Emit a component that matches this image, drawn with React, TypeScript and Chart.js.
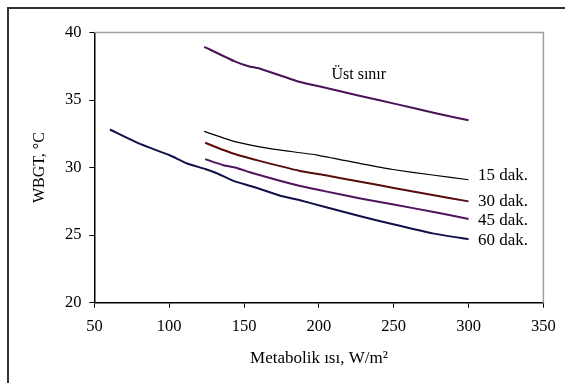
import React, { useEffect, useRef } from "react";
import { Chart, registerables } from "chart.js";

Chart.register(...registerables);

const xTicks = [50, 100, 150, 200, 250, 300, 350];
const yTicks = [20, 25, 30, 35, 40];

const ustSinirX = [123.4, 143.4, 153, 160.3, 186.8, 203.6, 227.7, 251.8, 275.9, 300];
const ustSinirY = [38.94, 37.88, 37.5, 37.34, 36.35, 35.93, 35.3, 34.7, 34.08, 33.5];

const dak15X = [123.4, 144.6, 167.5, 198.8, 227.7, 249.4, 275.9, 300];
const dak15Y = [32.68, 31.9, 31.4, 30.93, 30.3, 29.86, 29.45, 29.1];

const dak30X = [124, 136.2, 145.8, 160.3, 186.8, 203.6, 227.7, 251.8, 275.9, 300];
const dak30Y = [31.84, 31.3, 30.93, 30.5, 29.77, 29.45, 28.95, 28.46, 27.97, 27.5];

const dak45X = [124, 136.2, 144.6, 155.5, 186.8, 203.6, 227.7, 251.8, 275.9, 300];
const dak45Y = [30.63, 30.18, 29.99, 29.6, 28.65, 28.26, 27.72, 27.23, 26.73, 26.2];

const dak60X = [60.4, 79.6, 100, 112, 124, 131.4, 143.4, 155.5, 174.7, 186.8, 203.6, 227.7, 251.8, 275.9, 300];
const dak60Y = [32.82, 31.79, 30.93, 30.3, 29.9, 29.6, 29.0, 28.6, 27.9, 27.6, 27.1, 26.4, 25.75, 25.13, 24.7];

const seriesLabels = ["Üst sınır", "15 dak.", "30 dak.", "45 dak.", "60 dak."];
const labelX = [208.4, 306.3, 306.3, 306.3, 306.3];
const labelY = [36.85, 29.4, 27.48, 26.05, 24.59];

const xTitle = "Metabolik ısı, W/m²";
const yTitle = "WBGT, °C";

const pts = (xs: number[], ys: number[]) => xs.map((x, i) => ({ x, y: ys[i] }));

const FONT = "'Liberation Serif', 'Times New Roman', serif";

export default function App() {
  const ref = useRef<HTMLCanvasElement | null>(null);
  useEffect(() => {
    if (!ref.current) return;
    const framePlugin = {
      id: "frame",
      beforeDraw(chart: any) {
        const ctx = chart.ctx;
        ctx.save();
        ctx.fillStyle = "#fff";
        ctx.fillRect(0, 0, chart.width, chart.height);
        ctx.strokeStyle = "#333";
        ctx.lineWidth = 2;
        ctx.beginPath();
        ctx.moveTo(8, chart.height + 5);
        ctx.lineTo(8, 8);
        ctx.lineTo(chart.width + 5, 8);
        ctx.stroke();
        ctx.restore();
      },
      afterDatasetsDraw(chart: any) {
        const ctx = chart.ctx;
        const { left, right, top, bottom } = chart.chartArea;
        ctx.save();
        ctx.strokeStyle = "#a0a0a0";
        ctx.lineWidth = 1.5;
        ctx.beginPath();
        ctx.moveTo(left, top);
        ctx.lineTo(right, top);
        ctx.lineTo(right, bottom);
        ctx.stroke();
        const xs = chart.scales.x;
        const ys = chart.scales.y;
        ctx.fillStyle = "#000";
        ctx.textAlign = "left";
        ctx.textBaseline = "middle";
        seriesLabels.forEach((t, i) => {
          ctx.font = `${i === 0 ? 16 : 17}px ${FONT}`;
          ctx.fillText(t, xs.getPixelForValue(labelX[i]), ys.getPixelForValue(labelY[i]));
        });
        ctx.restore();
      },
    };
    const chart = new Chart(ref.current, {
      type: "line",
      data: {
        datasets: [
          { label: seriesLabels[0], data: pts(ustSinirX, ustSinirY), borderColor: "#4a1258", borderWidth: 2 },
          { label: seriesLabels[1], data: pts(dak15X, dak15Y), borderColor: "#000000", borderWidth: 1.2 },
          { label: seriesLabels[2], data: pts(dak30X, dak30Y), borderColor: "#5a0c0c", borderWidth: 2 },
          { label: seriesLabels[3], data: pts(dak45X, dak45Y), borderColor: "#50145e", borderWidth: 2 },
          { label: seriesLabels[4], data: pts(dak60X, dak60Y), borderColor: "#10104a", borderWidth: 2 },
        ],
      },
      options: {
        animation: false,
        responsive: false,
        maintainAspectRatio: false,
        elements: { point: { radius: 0 }, line: { tension: 0.15 } },
        layout: { padding: { left: 26, right: 21.6, top: 32.5, bottom: 10 } },
        plugins: { legend: { display: false }, tooltip: { enabled: false } },
        scales: {
          x: {
            type: "linear",
            min: 50,
            max: 350,
            afterBuildTicks: (s: any) => { s.ticks = xTicks.map((v) => ({ value: v })); },
            afterFit: (s: any) => { s.height = 373 - 302.7; },
            grid: { display: true, drawOnChartArea: false, drawTicks: true, tickLength: 5, color: "#000" },
            border: { display: true, color: "#000", width: 1.5 },
            ticks: { color: "#000", font: { family: FONT, size: 16.5 }, padding: 9, maxRotation: 0 },
            title: { display: true, text: xTitle, color: "#000", font: { family: FONT, size: 17 }, padding: { top: 4, bottom: 4 } },
          },
          y: {
            type: "linear",
            min: 20,
            max: 40,
            afterBuildTicks: (s: any) => { s.ticks = yTicks.map((v) => ({ value: v })); },
            afterFit: (s: any) => { s.width = 94.4 - 26; },
            grid: { display: true, drawOnChartArea: false, drawTicks: true, tickLength: 5, color: "#000" },
            border: { display: true, color: "#000", width: 1.5 },
            ticks: { color: "#000", font: { family: FONT, size: 16.5 }, padding: 8 },
            title: { display: true, text: yTitle, color: "#000", font: { family: FONT, size: 16 }, padding: { top: 4, bottom: 4 } },
          },
        },
      },
      plugins: [framePlugin],
    } as any);
    return () => chart.destroy();
  }, []);
  return (
    <div style={{ position: "fixed", left: 0, top: 0, width: 565, height: 383, background: "#fff" }}>
      <canvas ref={ref} width={565} height={383} style={{ width: 565, height: 383, display: "block" }} />
    </div>
  );
}
